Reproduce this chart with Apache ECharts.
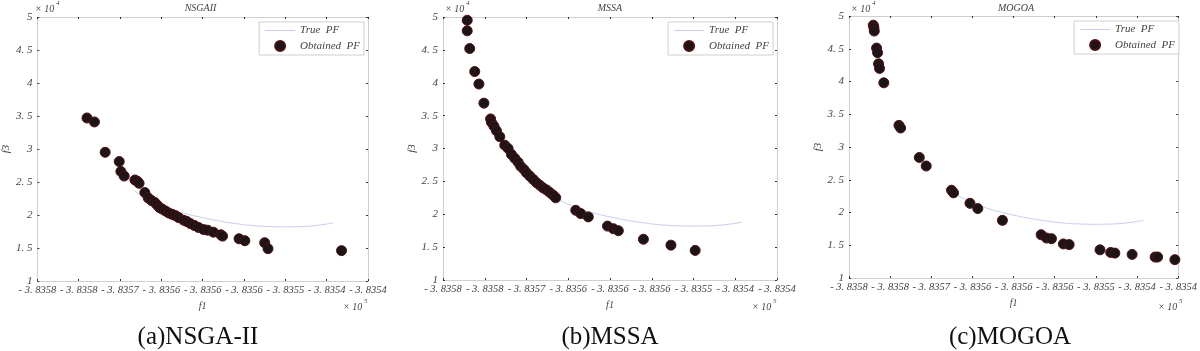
<!DOCTYPE html>
<html>
<head>
<meta charset="utf-8">
<script src="https://cdn.jsdelivr.net/npm/echarts@6/dist/echarts.min.js"></script>
<style>html,body{margin:0;padding:0;background:#fff}#c{width:1200px;height:351px}</style>
</head>
<body>
<div id="c"></div>
<script>
// ---------- data ----------
const panelTitles = ['NSGAII', 'MSSA', 'MOGOA'];
const captions = ['(a)NSGA-II', '(b)MSSA', '(c)MOGOA'];
const xTickLabels = ['- 3. 8358','- 3. 8358','- 3. 8357','- 3. 8356','- 3. 8356','- 3. 8356','- 3. 8355','- 3. 8354','- 3. 8354'];
const yTickLabels = ['1','1. 5','2','2. 5','3','3. 5','4','4. 5','5'];
const xMin = -383580, xMax = -383540, xInterval = 5;
const yMin = 1, yMax = 5, yInterval = 0.5;

// True Pareto front (f1, f3 in units of 1e4)
const trueF1 = [-383568.3,-383567.0,-383565.5,-383564.0,-383562.0,-383560.0,-383558.0,-383556.0,-383554.0,-383552.0,-383550.0,-383548.0,-383546.0,-383544.2];
const trueF3 = [2.37,2.27,2.18,2.10,2.02,1.96,1.91,1.87,1.84,1.825,1.82,1.825,1.845,1.88];

// NSGA-II obtained PF
const nsgaF1 = [-383574.0,-383573.1,-383571.8,-383570.1,-383569.9,-383569.5,-383568.2,-383567.9,-383567.7,-383567.0,-383566.6,-383566.2,-383565.8,-383565.5,-383565.2,-383564.9,-383564.5,-383564.1,-383563.7,-383563.3,-383562.9,-383562.3,-383561.9,-383561.5,-383561.0,-383560.5,-383559.9,-383559.4,-383558.7,-383557.8,-383557.6,-383555.6,-383554.9,-383552.5,-383552.1,-383543.2];
const nsgaF3 = [3.47,3.41,2.95,2.81,2.66,2.59,2.53,2.51,2.48,2.34,2.26,2.22,2.19,2.15,2.11,2.09,2.06,2.03,2.01,1.99,1.96,1.92,1.90,1.87,1.84,1.81,1.78,1.77,1.74,1.70,1.68,1.64,1.61,1.58,1.49,1.46];

// MSSA obtained PF
const mssaF1 = [-383577.1,-383577.1,-383576.8,-383576.2,-383575.7,-383575.1,-383574.3,-383574.2,-383573.9,-383573.6,-383573.2,-383572.6,-383572.2,-383571.8,-383571.4,-383571.0,-383570.7,-383570.3,-383570.0,-383569.6,-383569.2,-383568.8,-383568.4,-383568.0,-383567.6,-383567.2,-383566.8,-383566.5,-383564.1,-383563.5,-383562.6,-383560.3,-383559.6,-383559.0,-383556.0,-383552.7,-383549.8];
const mssaF3 = [4.95,4.79,4.52,4.17,3.98,3.69,3.45,3.40,3.34,3.27,3.18,3.05,3.00,2.91,2.85,2.79,2.73,2.68,2.63,2.58,2.53,2.48,2.44,2.40,2.37,2.33,2.29,2.25,2.06,2.01,1.96,1.82,1.78,1.75,1.62,1.53,1.45];

// MOGOA obtained PF
const mogoaF1 = [-383577.05,-383576.97,-383576.93,-383576.65,-383576.53,-383576.41,-383576.29,-383575.77,-383573.93,-383573.73,-383571.46,-383570.62,-383567.54,-383567.3,-383565.3,-383564.35,-383561.36,-383556.65,-383556.0,-383555.4,-383553.95,-383553.25,-383549.5,-383548.2,-383547.7,-383545.6,-383542.8,-383542.5,-383540.4];
const mogoaF3 = [4.86,4.82,4.77,4.51,4.44,4.27,4.20,3.98,3.33,3.29,2.84,2.71,2.34,2.30,2.14,2.06,1.88,1.66,1.61,1.60,1.52,1.51,1.43,1.39,1.38,1.36,1.32,1.32,1.28];

const obtained = [[nsgaF1, nsgaF3], [mssaF1, mssaF3], [mogoaF1, mogoaF3]];

// ---------- layout ----------
const grids = [
  {left: 33, top: 17, width: 335, height: 264},
  {left: 443, top: 17, width: 334, height: 263},
  {left: 849, top: 16, width: 334, height: 262}
];
const serif = '"Liberation Serif", "DejaVu Serif", serif';
const labelStyle = {fontFamily: serif, fontStyle: 'italic', fontSize: 11, color: '#444'};
const zip = (a, b) => a.map((v, i) => [v, b[i]]);

const xAxes = [], yAxes = [], series = [], legends = [], graphics = [];
grids.forEach((g, i) => {
  const common = {gridIndex: i, type: 'value', splitLine: {show: false},
    axisLine: {show: true, onZero: false, lineStyle: {color: '#cfcfcf', width: 1}},
    axisTick: {show: true, inside: true, length: 2, lineStyle: {color: '#333'}}};
  xAxes.push(Object.assign({}, common, {
    position: 'bottom', min: xMin, max: xMax, interval: xInterval,
    axisLabel: Object.assign({}, labelStyle, {fontSize: 10.5, margin: 4, showMinLabel: true, showMaxLabel: true,
      formatter: v => xTickLabels[Math.round((v - xMin) / xInterval)] || ''}),
    name: 'f1', nameLocation: 'middle', nameGap: 20,
    nameTextStyle: Object.assign({}, labelStyle, {fontSize: 10})
  }));
  xAxes.push(Object.assign({}, common, {
    position: 'top', min: xMin, max: xMax, interval: xInterval,
    axisLabel: {show: false}
  }));
  yAxes.push(Object.assign({}, common, {
    position: 'left', min: yMin, max: yMax, interval: yInterval,
    axisLabel: Object.assign({}, labelStyle, {margin: 5,
      formatter: v => yTickLabels[Math.round((v - yMin) / yInterval)] || ''}),
    name: 'f3', nameLocation: 'middle', nameGap: 24, nameRotate: 90,
    nameTextStyle: Object.assign({}, labelStyle, {fontSize: 11})
  }));
  yAxes.push(Object.assign({}, common, {
    position: 'right', min: yMin, max: yMax, interval: yInterval,
    axisLabel: {show: false}
  }));
  series.push({
    name: 'True  PF', type: 'line', xAxisIndex: 2 * i, yAxisIndex: 2 * i,
    data: zip(trueF1, trueF3), symbol: 'none', smooth: true,
    lineStyle: {color: '#c6cdf0', width: 1}, itemStyle: {color: '#c6cdf0'}, z: 2
  });
  series.push({
    name: 'Obtained  PF', type: 'scatter', xAxisIndex: 2 * i, yAxisIndex: 2 * i,
    data: zip(obtained[i][0], obtained[i][1]), symbol: 'circle', symbolSize: 10,
    itemStyle: {color: '#1d1417', borderColor: '#4e1012', borderWidth: 1, opacity: 1}, z: 3
  });
  legends.push({
    orient: 'vertical', right: 1200 - (g.left + g.width) + 4, top: g.top + 5,
    data: [
      {name: 'True  PF', icon: 'path://M0,5L30,5L30,6L0,6Z'},
      {name: 'Obtained  PF', icon: 'circle'}
    ],
    itemWidth: 30, itemHeight: 10, itemGap: 4, padding: [3, 4, 3, 6],
    borderColor: '#cfcfcf', borderWidth: 1, backgroundColor: '#fff',
    textStyle: {fontFamily: serif, fontStyle: 'italic', fontSize: 11, color: '#444'},
    selectedMode: false
  });
  graphics.push({type: 'text', x: g.left + g.width / 2, y: 3, style: {text: panelTitles[i],
    font: 'italic 10px ' + serif, fill: '#444', textAlign: 'center'}});
  graphics.push({type: 'text', x: g.left + 2, y: 4, style: {text: '× 10', font: 'italic 10px ' + serif, fill: '#444'}});
  graphics.push({type: 'text', x: g.left + 23, y: 0, style: {text: '4', font: 'italic 7px ' + serif, fill: '#444'}});
  graphics.push({type: 'text', x: g.left + g.width - 25, y: 302, style: {text: '× 10', font: 'italic 10px ' + serif, fill: '#444'}});
  graphics.push({type: 'text', x: g.left + g.width - 4, y: 298, style: {text: '5', font: 'italic 7px ' + serif, fill: '#444'}});
  graphics.push({type: 'text', x: [198, 610, 1010][i], y: 325, style: {text: captions[i],
    font: '25px ' + serif, fill: '#111', textAlign: 'center'}});
});

const chart = echarts.init(document.getElementById('c'), null, {renderer: 'canvas'});
chart.setOption({
  animation: false,
  backgroundColor: '#fff',
  grid: grids.map(g => Object.assign({containLabel: false, show: false}, g)),
  xAxis: xAxes, yAxis: yAxes, series: series, legend: legends,
  graphic: graphics
});
</script>
</body>
</html>
